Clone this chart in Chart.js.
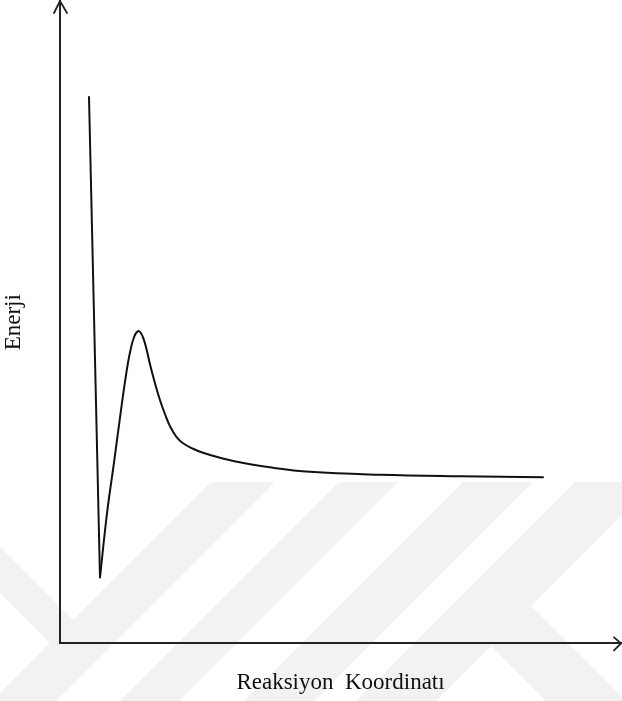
<!DOCTYPE html>
<html>
<head>
<meta charset="utf-8">
<script src="https://cdn.jsdelivr.net/npm/chart.js@4.4.1/dist/chart.umd.min.js"></script>
<style>
  html, body { margin: 0; padding: 0; background: #fff; }
  #wrap { width: 622px; height: 701px; position: relative; }
</style>
</head>
<body>
<div id="wrap"><canvas id="energyChart"></canvas></div>
<script>
// reaction coordinate / energy, arbitrary units (0..10 on both axes)
const dropX = [0.517, 0.713];
const dropY = [8.505, 1.028];

const coordX = [0.713, 0.838, 0.963, 1.087, 1.176, 1.248, 1.319, 1.390, 1.444, 1.497,
                1.551, 1.604, 1.693, 1.783, 1.872, 1.961, 2.068, 2.193, 2.371, 2.549,
                2.852, 3.155, 3.743, 4.456, 5.704, 7.130, 8.610];
const energy = [1.028, 2.025, 2.819, 3.629, 4.174, 4.533, 4.766, 4.860, 4.829, 4.720,
                4.548, 4.346, 4.050, 3.785, 3.567, 3.380, 3.224, 3.115, 3.030, 2.967,
                2.889, 2.827, 2.741, 2.671, 2.625, 2.601, 2.586];

const xTitle = 'Reaksiyon  Koordinatı';
const yTitle = 'Enerji';

const toPoints = (xs, ys) => xs.map((x, i) => ({ x: x, y: ys[i] }));

// faint diagonal watermark in the lower part of the page
const watermark = {
    id: 'watermark',
    beforeDraw(chart) {
        const ctx = chart.ctx;
        const w = chart.width, h = chart.height;
        ctx.save();
        ctx.fillStyle = '#fff';
        ctx.fillRect(0, 0, w, h);
        ctx.beginPath();
        ctx.rect(0, 482, w, h - 482);
        ctx.clip();
        ctx.fillStyle = '#f2f2f2';
        // bands rising to the right: x + y between c1 and c2
        const up = [[693, 757], [821, 880], [945, 1015], [1057, 1137]];
        up.forEach(b => {
            ctx.beginPath();
            ctx.moveTo(b[0] - 482, 482);
            ctx.lineTo(b[1] - 482, 482);
            ctx.lineTo(b[1] - 720, 720);
            ctx.lineTo(b[0] - 720, 720);
            ctx.closePath();
            ctx.fill();
        });
        // bands falling to the right
        ctx.beginPath();
        ctx.moveTo(-10, 537);
        ctx.lineTo(86.5, 633.5);
        ctx.lineTo(63.5, 656.5);
        ctx.lineTo(-10, 583);
        ctx.closePath();
        ctx.fill();
        ctx.beginPath();
        ctx.moveTo(512.5, 587.5);
        ctx.lineTo(645, 720);
        ctx.lineTo(565, 720);
        ctx.lineTo(472.5, 627.5);
        ctx.closePath();
        ctx.fill();
        ctx.restore();
    }
};

// open arrow heads on the ends of both axes
const arrows = {
    id: 'arrows',
    afterDraw(chart) {
        const a = chart.chartArea;
        const ctx = chart.ctx;
        ctx.save();
        ctx.strokeStyle = '#222';
        ctx.lineWidth = 1.8;
        ctx.lineCap = 'round';
        ctx.lineJoin = 'miter';
        ctx.beginPath();
        ctx.moveTo(a.left - 6, a.top + 12);
        ctx.lineTo(a.left, a.top);
        ctx.lineTo(a.left + 7, a.top + 12);
        ctx.moveTo(a.right - 7, a.bottom - 6);
        ctx.lineTo(a.right, a.bottom);
        ctx.lineTo(a.right - 7, a.bottom + 7);
        ctx.stroke();
        ctx.restore();
    }
};

const titleFont = { family: "'Liberation Serif', 'Times New Roman', serif", size: 23 };

new Chart(document.getElementById('energyChart'), {
    type: 'scatter',
    data: {
        datasets: [{
            data: toPoints(dropX, dropY),
            showLine: true,
            borderColor: '#111',
            borderWidth: 2,
            borderCapStyle: 'round',
            pointRadius: 0,
            tension: 0
        }, {
            data: toPoints(coordX, energy),
            showLine: true,
            borderColor: '#111',
            borderWidth: 2,
            borderCapStyle: 'round',
            pointRadius: 0,
            tension: 0.4
        }]
    },
    options: {
        responsive: true,
        maintainAspectRatio: false,
        animation: false,
        layout: { padding: { top: 1, right: 1, left: 0, bottom: 0 } },
        plugins: {
            legend: { display: false },
            tooltip: { enabled: false }
        },
        scales: {
            x: {
                type: 'linear',
                min: 0,
                max: 10,
                ticks: { display: false },
                grid: { display: false, drawTicks: false },
                border: { color: '#222', width: 2 },
                title: {
                    display: true,
                    text: xTitle,
                    color: '#111',
                    font: titleFont,
                    padding: { top: 26, bottom: 4 }
                }
            },
            y: {
                type: 'linear',
                min: 0,
                max: 10,
                ticks: { display: false },
                grid: { display: false, drawTicks: false },
                border: { color: '#222', width: 2 },
                title: {
                    display: true,
                    text: yTitle,
                    color: '#111',
                    font: titleFont,
                    padding: { top: 0, bottom: 32.4 }
                }
            }
        }
    },
    plugins: [watermark, arrows]
});
</script>
</body>
</html>
